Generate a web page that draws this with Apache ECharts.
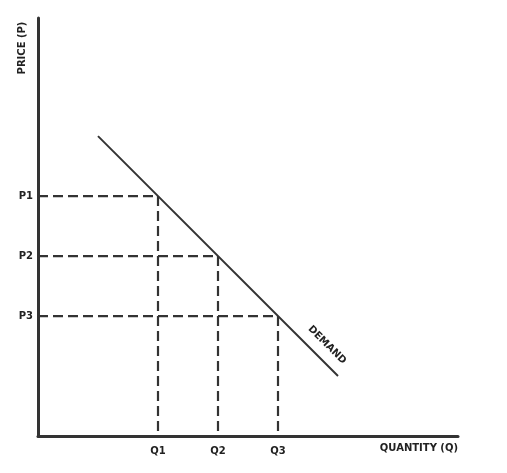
<!DOCTYPE html>
<html><head><meta charset="utf-8">
<script src="https://cdn.jsdelivr.net/npm/echarts@6/dist/echarts.min.js"></script>
<style>html,body{margin:0;padding:0;background:#fff}#c{width:507px;height:473px}</style>
</head><body><div id="c"></div>
<script>
var qLabels = {2:'Q1', 3:'Q2', 4:'Q3'};
var pLabels = {4:'P1', 3:'P2', 2:'P3'};
var demand = [[1,5],[5,1]];
var points = [[2,4],[3,3],[4,2]];
var xName = 'QUANTITY (Q)';
var yName = 'PRICE (P)';
var curveName = 'DEMAND';

var FONT = 'DejaVu Sans, Liberation Sans, Arial, sans-serif';
var chart = echarts.init(document.getElementById('c'));
var dashSeries = points.map(function(p){
  return {type:'line', data:[[0,p[1]],[p[0],p[1]],[p[0],0]], symbol:'none', silent:true,
    lineStyle:{color:'#333', width:2.2, type:[10,5]}, z:1};
});
var fontBase = {fontFamily:FONT, fontWeight:'bold', fontSize:10, color:'#222'};
chart.setOption({
  animation:false,
  grid:{left:38, right:49, top:18, bottom:37},
  xAxis:{type:'value', min:0, max:7, interval:1,
    axisLine:{lineStyle:{color:'#333', width:3}}, axisTick:{show:false}, splitLine:{show:false},
    axisLabel:Object.assign({margin:10, formatter:function(v){return qLabels[v]||'';}}, fontBase)},
  yAxis:{type:'value', min:0, max:6.97, interval:1,
    axisLine:{lineStyle:{color:'#333', width:3}}, axisTick:{show:false}, splitLine:{show:false},
    axisLabel:Object.assign({margin:5, formatter:function(v){return pLabels[v]||'';}}, fontBase)},
  graphic:[
    {type:'text', x:22, y:48, rotation:Math.PI/2, style:{text:yName, textAlign:'center', textVerticalAlign:'middle', fill:'#222', font:'bold 10px ' + FONT}},
    {type:'text', x:458, y:448, style:{text:xName, textAlign:'right', textVerticalAlign:'middle', fill:'#222', font:'bold 10px ' + FONT}},
    {type:'text', x:327, y:345, rotation:-Math.PI/4, style:{text:curveName, textAlign:'center', textVerticalAlign:'middle', fill:'#222', font:'bold 10px ' + FONT}}
  ],
  series:[{type:'line', data:demand, symbol:'none', silent:true, lineStyle:{color:'#333', width:2}, z:2}].concat(dashSeries)
});
</script></body></html>
